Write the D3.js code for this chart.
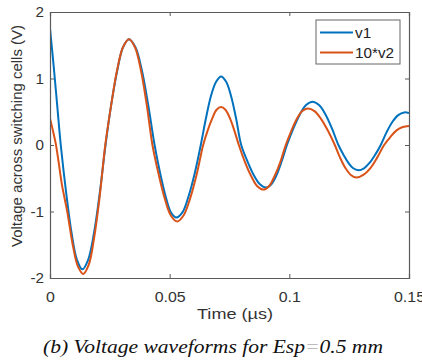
<!DOCTYPE html>
<html>
<head>
<meta charset="utf-8">
<script src="https://cdn.jsdelivr.net/npm/d3@7"></script>
<style>
  body { margin: 0; background: #fff; }
  svg { display: block; }
</style>
</head>
<body>
<div id="chart"></div>
<script>
// time in µs
const timeV1 = [0, 0.0015, 0.003, 0.0045, 0.0068, 0.009, 0.0113, 0.0135,
  0.0159, 0.0184, 0.0208, 0.0232, 0.0256, 0.0281, 0.0305, 0.033,
  0.0357, 0.0384, 0.041, 0.0437, 0.046, 0.0483, 0.0505, 0.0528,
  0.0554, 0.0579, 0.0605, 0.063, 0.0651, 0.0672, 0.0694, 0.0715,
  0.0736, 0.0757, 0.0778, 0.0799, 0.0825, 0.0851, 0.0877, 0.0903,
  0.0925, 0.0947, 0.0968, 0.099, 0.1017, 0.1044, 0.107, 0.1097,
  0.1124, 0.1151, 0.1178, 0.1205, 0.1226, 0.1247, 0.1267, 0.1288,
  0.1312, 0.1335, 0.1359, 0.1382, 0.1406, 0.1431, 0.1455, 0.148, 0.15];
const v1 = [1.75, 1.2, 0.6, 0, -0.73, -1.32, -1.73, -1.87,
  -1.73, -1.32, -0.72, 0, 0.61, 1.12, 1.47, 1.59,
  1.47, 1.12, 0.61, 0, -0.42, -0.77, -1.01, -1.09,
  -1.01, -0.77, -0.42, 0, 0.39, 0.73, 0.95, 1.03,
  0.95, 0.73, 0.39, 0, -0.245, -0.45, -0.59, -0.64,
  -0.59, -0.45, -0.245, 0, 0.25, 0.46, 0.6, 0.65,
  0.6, 0.46, 0.25, 0, -0.145, -0.27, -0.35, -0.38,
  -0.35, -0.27, -0.145, 0, 0.19, 0.35, 0.45, 0.49, 0.48];

const timeV2 = [0, 0.0012, 0.0024, 0.0035, 0.005, 0.0072, 0.0095, 0.0117, 0.0139,
  0.0162, 0.0185, 0.0208, 0.0231, 0.0256, 0.028, 0.0305, 0.033,
  0.0355, 0.038, 0.0404, 0.0428, 0.0454, 0.048, 0.0505, 0.0531,
  0.0558, 0.0585, 0.0613, 0.064, 0.0659, 0.0678, 0.0696, 0.0715,
  0.0733, 0.0752, 0.077, 0.0789, 0.0815, 0.0841, 0.0866, 0.0892,
  0.0915, 0.0938, 0.0962, 0.0985, 0.1008, 0.1031, 0.1054, 0.1077,
  0.1105, 0.1133, 0.1162, 0.119, 0.1212, 0.1235, 0.1257, 0.128,
  0.1309, 0.1338, 0.1367, 0.1396, 0.1422, 0.1448, 0.1474, 0.15];
const v2x10 = [0.4, 0.22, 0.02, -0.23, -0.6, -1.0, -1.5, -1.83, -1.94,
  -1.8, -1.38, -0.76, 0, 0.61, 1.12, 1.47, 1.59,
  1.47, 1.12, 0.61, 0, -0.44, -0.81, -1.06, -1.15,
  -1.06, -0.81, -0.44, 0, 0.22, 0.4, 0.53, 0.57,
  0.53, 0.4, 0.22, 0, -0.26, -0.47, -0.62, -0.67,
  -0.62, -0.47, -0.26, 0, 0.21, 0.39, 0.51, 0.55,
  0.51, 0.39, 0.21, 0, -0.19, -0.35, -0.45, -0.49,
  -0.45, -0.35, -0.19, 0, 0.12, 0.22, 0.27, 0.285];

const xTicks = [0, 0.05, 0.1, 0.15];
const yTicks = [-2, -1, 0, 1, 2];
const seriesNames = ["v1", "10*v2"];
const colors = ["#0072BD", "#D95319"];

const width = 422, height = 362;
const margin = {top: 12, right: 13, bottom: 84, left: 50};
const w = width - margin.left - margin.right;
const h = height - margin.top - margin.bottom;
const sans = "'Liberation Sans', Arial, sans-serif";

const svg = d3.select("#chart").append("svg")
    .attr("width", width)
    .attr("height", height)
    .style("font-family", sans);

const g = svg.append("g")
    .attr("transform", `translate(${margin.left},${margin.top})`);

const x = d3.scaleLinear().domain([0, 0.15]).range([0, w]);
const y = d3.scaleLinear().domain([-2, 2]).range([h, 0]);

const line = d3.line()
    .x(d => x(d[0]))
    .y(d => y(d[1]))
    .curve(d3.curveCatmullRom.alpha(0.5));

const series = [
  timeV1.map((t, i) => [t, v1[i]]),
  timeV2.map((t, i) => [t, v2x10[i]])
];

g.append("defs").append("clipPath").attr("id", "clip")
  .append("rect").attr("width", w).attr("height", h);

series.forEach((s, i) => {
  g.append("path")
    .datum(s)
    .attr("clip-path", "url(#clip)")
    .attr("fill", "none")
    .attr("stroke", colors[i])
    .attr("stroke-width", 2)
    .attr("stroke-linejoin", "round")
    .attr("d", line);
});

// the reference text looks a bit wider than the font, stretch it
function widen(sel, f) {
  sel.each(function() {
    const L = this.getComputedTextLength();
    this.setAttribute("textLength", L * f);
    this.setAttribute("lengthAdjust", "spacingAndGlyphs");
  });
}

// axes, MATLAB style: ticks inward, box on
const axisColor = "#5a5a5a";
const tickLen = 4;

const xAxis = g.append("g").attr("transform", `translate(0,${h})`)
  .call(d3.axisBottom(x).tickValues(xTicks).tickSize(-tickLen).tickPadding(14)
    .tickFormat(d => String(+d.toFixed(2))));
const xTop = g.append("g")
  .call(d3.axisTop(x).tickValues(xTicks).tickSize(-tickLen).tickFormat(""));
const yAxis = g.append("g")
  .call(d3.axisLeft(y).tickValues(yTicks).tickSize(-tickLen).tickPadding(6)
    .tickFormat(d => d < 0 ? "-" + Math.abs(d) : d));
const yRight = g.append("g").attr("transform", `translate(${w},0)`)
  .call(d3.axisRight(y).tickValues(yTicks).tickSize(-tickLen).tickFormat(""));

[xAxis, xTop, yAxis, yRight].forEach(a => {
  a.select(".domain").attr("stroke", axisColor).attr("stroke-width", 1.2);
  a.selectAll(".tick line").attr("stroke", axisColor);
  a.selectAll(".tick text").attr("fill", "#333").attr("font-size", 14.5)
    .attr("font-family", sans);
});
widen(xAxis.selectAll(".tick text"), 1.1);
widen(yAxis.selectAll(".tick text"), 1.05);

// axis labels
const xLab = svg.append("text")
  .attr("x", 235)
  .attr("y", 319)
  .attr("text-anchor", "middle")
  .attr("font-size", 14.5)
  .attr("fill", "#333")
  .text("Time (µs)");
xLab.attr("textLength", 76).attr("lengthAdjust", "spacingAndGlyphs");

svg.append("text")
  .attr("transform", `translate(22,136) rotate(-90)`)
  .attr("text-anchor", "middle")
  .attr("font-size", 14)
  .attr("fill", "#333")
  .attr("textLength", 222)
  .attr("lengthAdjust", "spacingAndGlyphs")
  .text("Voltage across switching cells (V)");

// legend
const leg = svg.append("g").attr("transform", "translate(316,20)");
leg.append("rect")
  .attr("width", 84).attr("height", 44)
  .attr("fill", "#fff").attr("stroke", "#666").attr("stroke-width", 1);
seriesNames.forEach((name, i) => {
  const ly = 12.5 + i * 20;
  leg.append("line")
    .attr("x1", 4).attr("x2", 37).attr("y1", ly).attr("y2", ly)
    .attr("stroke", colors[i]).attr("stroke-width", 2);
  leg.append("text")
    .attr("x", 39).attr("y", ly + 5.5)
    .attr("font-size", 14).attr("fill", "#222")
    .text(name);
});
widen(leg.selectAll("text"), 1.09);

// caption
const cap = svg.append("text")
  .attr("x", 43)
  .attr("y", 353)
  .attr("font-family", "'Liberation Serif', 'Times New Roman', serif")
  .attr("font-style", "italic")
  .attr("font-size", 19)
  .attr("fill", "#111")
  .attr("textLength", 340)
  .attr("lengthAdjust", "spacingAndGlyphs");
cap.append("tspan").text("(b) Voltage waveforms for Esp");
cap.append("tspan").attr("fill", "#bbb").text("=");
cap.append("tspan").text("0.5 mm");
</script>
</body>
</html>
